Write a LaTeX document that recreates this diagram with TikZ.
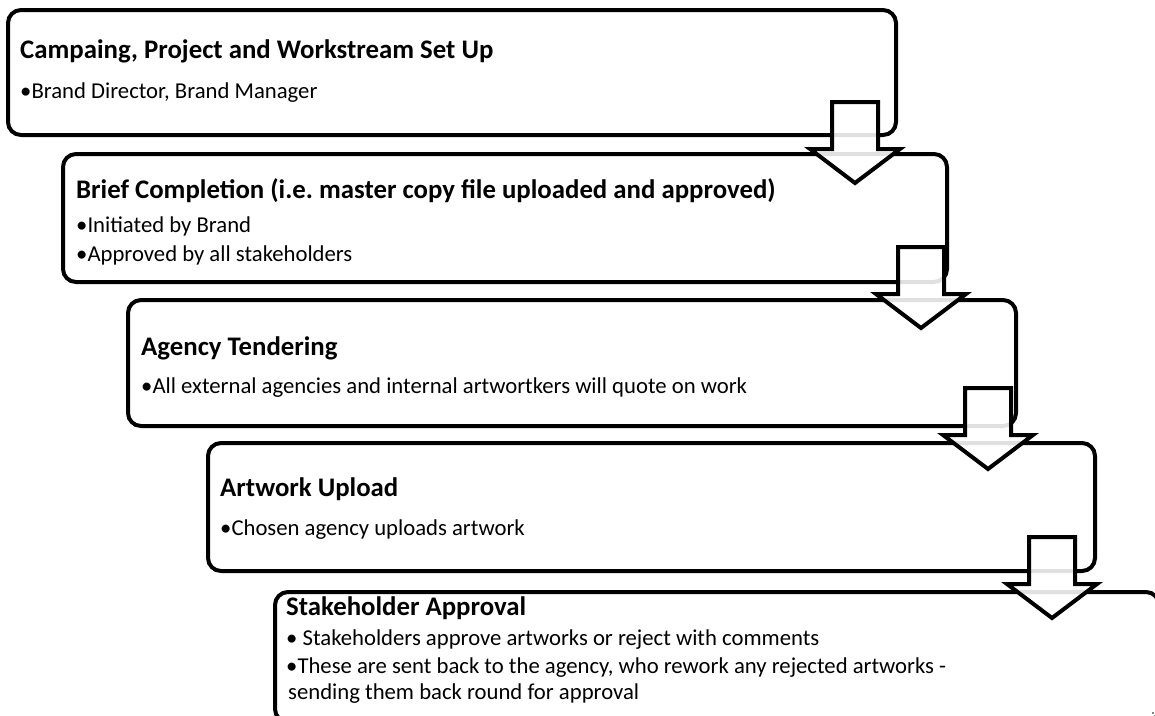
\documentclass[tikz,border=0pt]{standalone}
\usepackage{fontspec}
\setmainfont{Carlito}
\frenchspacing
\begin{document}
\begin{tikzpicture}[x=1pt,y=-1pt,
  stagebox/.style={draw=black,line width=4pt,rounded corners=13pt,fill=white},
  flowarrow/.style={draw=black,line width=4pt,fill=white,fill opacity=0.88,line join=miter,miter limit=10},
  ttl/.style={anchor=base west,inner sep=0pt,font=\fontsize{26.8}{30}\selectfont\bfseries},
  bul/.style={anchor=base west,inner sep=0pt,font=\fontsize{22.7}{26}\selectfont}]
\useasboundingbox (0,0) rectangle (1155,715);
\clip (0,0) rectangle (1155,715);
% boxes
\draw[stagebox] (8,10) rectangle (896,135);
\draw[stagebox] (63,154) rectangle (947,282);
\draw[stagebox] (128,300) rectangle (1016,426);
\draw[stagebox] (208,443) rectangle (1095,571);
\draw[stagebox] (275,592) rectangle (1159,722);
\fill (1153,713) circle (0.8);
% texts
\node[ttl] (t1) at (20,58) {Campaing, Project and Workstream Set Up};
\node[bul] (b1) at (20,98) {•Brand Director, Brand Manager};
\node[ttl] (t2) at (76,198) {Brief Completion (i.e.\ master copy file uploaded and approved)};
\node[bul] (b2a) at (76,232) {•Initiated by Brand};
\node[bul] (b2b) at (76,261) {•Approved by all stakeholders};
\node[ttl] (t3) at (141,355) {Agency Tendering};
\node[bul] (b3) at (141,393) {•All external agencies and internal artwortkers will quote on work};
\node[ttl] (t4) at (220,496) {Artwork Upload};
\node[bul] (b4) at (220,535) {•Chosen agency uploads artwork};
\node[ttl] (t5) at (286,615) {Stakeholder Approval};
\node[bul] (b5a) at (286,645) {• Stakeholders approve artworks or reject with comments};
\node[bul] (b5b) at (286,673) {•These are sent back to the agency, who rework any rejected artworks -};
\node[bul] (b5c) at (288,699) {sending them back round for approval};
% arrows
\foreach \cx/\yt in {855/102, 921/247, 988/388, 1052/537}{
  \draw[flowarrow] (\cx-23,\yt) -- (\cx+23,\yt) -- (\cx+23,\yt+47) -- (\cx+45,\yt+47)
    -- (\cx,\yt+81) -- (\cx-45,\yt+47) -- (\cx-23,\yt+47) -- cycle;
}
\end{tikzpicture}
\end{document}
